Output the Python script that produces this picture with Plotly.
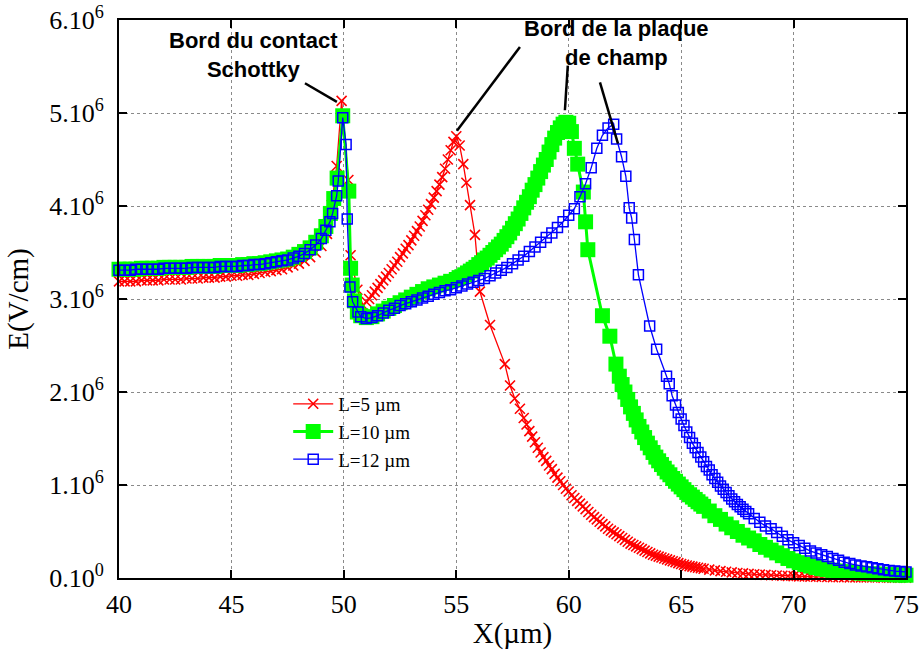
import plotly.graph_objects as go

# ---------------- data (E in units of 1e6 V/cm, X in µm) ----------------
X_L5 = [
    40.0, 40.25, 40.5, 40.75, 41.0, 41.25, 41.5, 41.75, 42.0, 42.25, 42.5, 42.75,
    43.0, 43.25, 43.5, 43.75, 44.0, 44.25, 44.5, 44.75, 45.0, 45.25, 45.5, 45.75,
    46.0, 46.25, 46.5, 46.75, 47.0, 47.25, 47.5, 47.75, 48.0, 48.25, 48.5, 48.75,
    49.0, 49.25,
    49.46, 49.68, 49.9, 50.2, 50.3, 50.6,
    50.86, 51.0, 51.125, 51.25, 51.375, 51.5, 51.625, 51.75, 51.875,
    52.0, 52.125, 52.25, 52.375, 52.5, 52.625, 52.75, 52.875,
    53.0, 53.125, 53.25, 53.375, 53.5, 53.625, 53.75, 53.875,
    54.0, 54.125, 54.25, 54.375, 54.5, 54.625, 54.75, 54.875, 55.0,
    55.15, 55.31, 55.45, 55.61, 55.83,
    56.05, 56.5, 57.16, 57.39, 57.6, 57.83,
    58.0, 58.125, 58.25, 58.375, 58.5, 58.625, 58.75, 58.875,
    59.0, 59.125, 59.25, 59.375, 59.5, 59.625, 59.75, 59.875,
    60.0, 60.125, 60.25, 60.375, 60.5, 60.625, 60.75, 60.875,
    61.0, 61.125, 61.25, 61.375, 61.5, 61.625, 61.75, 61.875,
    62.0, 62.125, 62.25, 62.375, 62.5, 62.625, 62.75, 62.875,
    63.0, 63.125, 63.25, 63.375, 63.5, 63.625, 63.75, 63.875,
    64.0, 64.125, 64.25, 64.375, 64.5, 64.625, 64.75, 64.875,
    65.0, 65.125, 65.25, 65.375, 65.5, 65.625, 65.75, 65.875,
    66.0, 66.25, 66.5, 66.75, 67.0, 67.25, 67.5, 67.75,
    68.0, 68.25, 68.5, 68.75, 69.0, 69.25, 69.5, 69.75,
    70.0, 70.25, 70.5, 70.75, 71.0, 71.25, 71.5, 71.75,
    72.0, 72.25, 72.5, 72.75, 73.0, 73.25, 73.5, 73.75,
    74.0, 74.25, 74.5, 74.75, 75.0,
]
E_L5 = [
    3.19, 3.19, 3.19, 3.19, 3.20, 3.20, 3.20, 3.20, 3.21, 3.21, 3.21, 3.21,
    3.22, 3.22, 3.22, 3.23, 3.23, 3.23, 3.24, 3.24, 3.25, 3.25, 3.26, 3.26,
    3.27, 3.28, 3.29, 3.30, 3.31, 3.32, 3.34, 3.36, 3.38, 3.41, 3.45, 3.50,
    3.57, 3.70,
    4.01, 4.43, 5.13, 4.28, 3.47, 3.10,
    2.93, 2.97, 3.00, 3.04, 3.08, 3.12, 3.16, 3.20, 3.24,
    3.28, 3.32, 3.36, 3.40, 3.45, 3.49, 3.54, 3.58,
    3.63, 3.68, 3.73, 3.78, 3.84, 3.90, 3.96, 4.02,
    4.09, 4.16, 4.23, 4.31, 4.40, 4.50, 4.60, 4.69, 4.75,
    4.65, 4.45, 4.25, 4.01, 3.69,
    3.08, 2.72, 2.30, 2.07, 1.93, 1.82,
    1.72, 1.65, 1.58, 1.52, 1.46, 1.40, 1.35, 1.30,
    1.26, 1.21, 1.17, 1.12, 1.08, 1.04, 1.00, 0.96,
    0.93, 0.89, 0.86, 0.83, 0.80, 0.77, 0.74, 0.71,
    0.68, 0.655, 0.63, 0.605, 0.58, 0.555, 0.53, 0.51,
    0.49, 0.47, 0.45, 0.43, 0.41, 0.39, 0.37, 0.355,
    0.34, 0.325, 0.31, 0.295, 0.28, 0.265, 0.25, 0.24,
    0.23, 0.22, 0.21, 0.20, 0.19, 0.18, 0.17, 0.16,
    0.150, 0.142, 0.135, 0.128, 0.122, 0.116, 0.110, 0.105,
    0.100, 0.090, 0.082, 0.074, 0.067, 0.060, 0.054, 0.049,
    0.044, 0.040, 0.036, 0.033, 0.030, 0.027, 0.024, 0.022,
    0.020, 0.018, 0.016, 0.015, 0.013, 0.012, 0.011, 0.010,
    0.009, 0.008, 0.007, 0.007, 0.006, 0.006, 0.005, 0.005,
    0.004, 0.004, 0.004, 0.003, 0.003,
]

X_L10 = [
    40.0, 40.25, 40.5, 40.75, 41.0, 41.25, 41.5, 41.75, 42.0, 42.25, 42.5, 42.75,
    43.0, 43.25, 43.5, 43.75, 44.0, 44.25, 44.5, 44.75, 45.0, 45.25, 45.5, 45.75,
    46.0, 46.25, 46.5, 46.75, 47.0, 47.25, 47.5, 47.75, 48.0, 48.25, 48.5, 48.75,
    49.0,
    49.2, 49.4, 49.55, 49.7, 49.95, 50.22, 50.3, 50.37, 50.47, 50.6,
    50.75, 51.0, 51.25, 51.5, 51.75,
    52.0, 52.25, 52.5, 52.75, 53.0, 53.25, 53.5, 53.75,
    54.0, 54.25, 54.5, 54.75,
    55.0, 55.125, 55.25, 55.375, 55.5, 55.625, 55.75, 55.875,
    56.0, 56.125, 56.25, 56.375, 56.5, 56.625, 56.75, 56.875,
    57.0, 57.125, 57.25, 57.375, 57.5, 57.625, 57.75, 57.875,
    58.0, 58.125, 58.25, 58.375, 58.5, 58.625, 58.75, 58.875,
    59.0, 59.125, 59.25, 59.375, 59.5, 59.625, 59.75, 59.875,
    60.0,
    60.12, 60.25, 60.4, 60.65, 60.75, 60.85, 61.5, 61.83,
    62.1, 62.25, 62.375, 62.5, 62.625, 62.75, 62.875,
    63.0, 63.125, 63.25, 63.375, 63.5, 63.625, 63.75, 63.875,
    64.0, 64.125, 64.25, 64.375, 64.5, 64.625, 64.75, 64.875,
    65.0, 65.125, 65.25, 65.375, 65.5, 65.625, 65.75, 65.875,
    66.0, 66.25, 66.5, 66.75, 67.0, 67.25, 67.5, 67.75,
    68.0, 68.25, 68.5, 68.75, 69.0, 69.25, 69.5, 69.75,
    70.0, 70.25, 70.5, 70.75, 71.0, 71.25, 71.5, 71.75,
    72.0, 72.25, 72.5, 72.75, 73.0, 73.25, 73.5, 73.75,
    74.0, 74.25, 74.5, 74.75, 75.0,
]
E_L10 = [
    3.32, 3.32, 3.32, 3.32, 3.33, 3.33, 3.33, 3.33, 3.34, 3.34, 3.34, 3.34,
    3.34, 3.35, 3.35, 3.35, 3.35, 3.35, 3.36, 3.36, 3.36, 3.36, 3.37, 3.37,
    3.38, 3.38, 3.39, 3.40, 3.41, 3.42, 3.43, 3.45, 3.48, 3.51, 3.55, 3.61,
    3.68,
    3.78, 3.92, 4.08, 4.30, 4.97, 4.16, 3.33, 3.15, 2.98, 2.86,
    2.82, 2.80, 2.81, 2.84, 2.87,
    2.90, 2.93, 2.96, 2.99, 3.02, 3.05, 3.08, 3.11,
    3.13, 3.15, 3.17, 3.19,
    3.21, 3.23, 3.24, 3.26, 3.28, 3.30, 3.32, 3.34,
    3.37, 3.39, 3.42, 3.44, 3.47, 3.50, 3.53, 3.56,
    3.59, 3.63, 3.67, 3.71, 3.76, 3.81, 3.86, 3.92,
    3.98, 4.04, 4.10, 4.17, 4.23, 4.30, 4.37, 4.44,
    4.50, 4.58, 4.66, 4.73, 4.79, 4.84, 4.88, 4.90,
    4.89,
    4.80, 4.62, 4.45, 4.15, 3.83, 3.53, 2.82, 2.60,
    2.30, 2.17, 2.08, 2.00, 1.92, 1.84, 1.77,
    1.70, 1.63, 1.57, 1.51, 1.45, 1.40, 1.35, 1.30,
    1.26, 1.22, 1.18, 1.14, 1.11, 1.07, 1.04, 1.01,
    0.98, 0.95, 0.92, 0.895, 0.87, 0.845, 0.82, 0.795,
    0.77, 0.72, 0.67, 0.63, 0.58, 0.54, 0.50, 0.46,
    0.43, 0.40, 0.36, 0.33, 0.30, 0.27, 0.24, 0.21,
    0.185, 0.165, 0.145, 0.128, 0.113, 0.100, 0.090, 0.082,
    0.075, 0.068, 0.062, 0.057, 0.052, 0.048, 0.045, 0.042,
    0.039, 0.036, 0.034, 0.032, 0.030,
]

X_L12 = [
    40.0, 40.25, 40.5, 40.75, 41.0, 41.25, 41.5, 41.75, 42.0, 42.25, 42.5, 42.75,
    43.0, 43.25, 43.5, 43.75, 44.0, 44.25, 44.5, 44.75, 45.0, 45.25, 45.5, 45.75,
    46.0, 46.25, 46.5, 46.75, 47.0, 47.25, 47.5, 47.75, 48.0, 48.25, 48.5, 48.75,
    49.0,
    49.2, 49.38, 49.5, 49.68, 49.75, 49.95, 50.1, 50.15, 50.27, 50.39, 50.63,
    50.75, 51.0, 51.25, 51.5, 51.75,
    52.0, 52.25, 52.5, 52.75, 53.0, 53.25, 53.5, 53.75,
    54.0, 54.25, 54.5, 54.75, 55.0, 55.25, 55.5, 55.75,
    56.0, 56.25, 56.5, 56.75, 57.0, 57.25, 57.5, 57.75,
    58.0, 58.25, 58.5, 58.75, 59.0, 59.25, 59.5, 59.75,
    60.0, 60.25, 60.5, 60.75, 61.0, 61.25, 61.5, 61.75,
    62.0,
    62.13, 62.35, 62.54, 62.69, 62.8, 62.92, 63.1, 63.6, 63.91, 64.35, 64.47,
    64.6, 64.75, 64.875,
    65.0, 65.125, 65.25, 65.375, 65.5, 65.625, 65.75, 65.875,
    66.0, 66.125, 66.25, 66.375, 66.5, 66.625, 66.75, 66.875,
    67.0, 67.125, 67.25, 67.375, 67.5, 67.625, 67.75, 67.875,
    68.0, 68.25, 68.5, 68.75, 69.0, 69.25, 69.5, 69.75,
    70.0, 70.25, 70.5, 70.75, 71.0, 71.25, 71.5, 71.75,
    72.0, 72.25, 72.5, 72.75, 73.0, 73.25, 73.5, 73.75,
    74.0, 74.25, 74.5, 74.75, 75.0,
]
E_L12 = [
    3.31, 3.31, 3.31, 3.32, 3.32, 3.32, 3.32, 3.32, 3.33, 3.33, 3.33, 3.33,
    3.33, 3.34, 3.34, 3.34, 3.34, 3.34, 3.35, 3.35, 3.35, 3.35, 3.36, 3.36,
    3.37, 3.37, 3.38, 3.39, 3.40, 3.41, 3.42, 3.44, 3.46, 3.49, 3.53, 3.58,
    3.65,
    3.74, 3.83, 3.92, 4.11, 4.27, 4.95, 4.66, 3.86, 3.13, 2.97, 2.86,
    2.81, 2.79, 2.80, 2.82, 2.85,
    2.88, 2.90, 2.93, 2.95, 2.97, 2.99, 3.01, 3.03,
    3.05, 3.07, 3.09, 3.10, 3.12, 3.14, 3.16, 3.18,
    3.20, 3.22, 3.25, 3.28, 3.31, 3.34, 3.38, 3.42,
    3.46, 3.51, 3.56, 3.61, 3.66, 3.71, 3.77, 3.83,
    3.90, 3.97, 4.10, 4.24, 4.41, 4.62, 4.76, 4.84,
    4.88,
    4.72, 4.53, 4.32, 3.98, 3.87, 3.64, 3.26, 2.71, 2.46, 2.17, 2.09,
    1.96, 1.86, 1.78,
    1.71, 1.64, 1.57, 1.51, 1.45, 1.40, 1.35, 1.30,
    1.25, 1.20, 1.16, 1.11, 1.07, 1.03, 0.99, 0.955,
    0.92, 0.885, 0.85, 0.82, 0.79, 0.765, 0.74, 0.715,
    0.69, 0.64, 0.60, 0.56, 0.53, 0.49, 0.45, 0.41,
    0.38, 0.35, 0.32, 0.29, 0.27, 0.25, 0.23, 0.21,
    0.19, 0.17, 0.155, 0.14, 0.13, 0.12, 0.11, 0.10,
    0.09, 0.08, 0.075, 0.07, 0.065,
]

X_TICKS = [40, 45, 50, 55, 60, 65, 70, 75]
Y_TICKS = [0, 1, 2, 3, 4, 5, 6]
Y_TICKTEXT = ["0.10<sup>0</sup>", "1.10<sup>6</sup>", "2.10<sup>6</sup>", "3.10<sup>6</sup>",
              "4.10<sup>6</sup>", "5.10<sup>6</sup>", "6.10<sup>6</sup>"]

SERIF = "Liberation Serif"
SANS = "Liberation Sans"

fig = go.Figure()
fig.add_trace(go.Scatter(
    x=X_L5, y=E_L5, mode="lines+markers", name="L=5 µm",
    line=dict(color="#ff0000", width=1.3),
    marker=dict(symbol="x-thin", size=10, color="#ff0000",
                line=dict(color="#ff0000", width=1.6)),
    cliponaxis=False))
fig.add_trace(go.Scatter(
    x=X_L10, y=E_L10, mode="lines+markers", name="L=10 µm",
    line=dict(color="#00ff00", width=3),
    marker=dict(symbol="square", size=15, color="#00ff00",
                line=dict(width=0)),
    cliponaxis=False))
fig.add_trace(go.Scatter(
    x=X_L12, y=E_L12, mode="lines+markers", name="L=12 µm",
    line=dict(color="#0000ff", width=1.3),
    marker=dict(symbol="square-open", size=10, color="#0000ff",
                line=dict(color="#0000ff", width=1.5)),
    cliponaxis=False))

axis_common = dict(
    showline=True, linecolor="black", linewidth=2, mirror="ticks",
    ticks="inside", ticklen=8, tickwidth=1.5, tickcolor="black",
    showgrid=True, gridcolor="#8a8a8a", griddash="dot", gridwidth=1,
    zeroline=False, automargin=False, ticklabeloverflow="allow",
    tickfont=dict(family=SERIF, size=26, color="black"),
)

fig.update_xaxes(range=[40, 75], tickvals=X_TICKS, ticklabelstandoff=2,
                 title=dict(text="X(µm)", font=dict(family=SERIF, size=29, color="black"),
                            standoff=4),
                 **axis_common)
fig.update_yaxes(range=[0, 6], tickvals=Y_TICKS, ticktext=Y_TICKTEXT, ticklabelstandoff=8,
                 title=dict(text="E(V/cm)", font=dict(family=SERIF, size=29, color="black"),
                            standoff=12),
                 **axis_common)

# annotation pointer lines
for (x0, y0, x1, y1) in [(48.27, 5.32, 49.69, 5.12),
                          (57.83, 5.71, 55.03, 4.81),
                          (59.96, 5.51, 59.83, 5.03),
                          (61.39, 5.33, 62.19, 4.67)]:
    fig.add_shape(type="line", xref="x", yref="y", x0=x0, y0=y0, x1=x1, y1=y1,
                  line=dict(color="black", width=2.5))

fig.add_annotation(x=45.96, y=5.62, xref="x", yref="y", showarrow=False,
                   text="<b>Bord du contact<br>Schottky</b>",
                   font=dict(family=SANS, size=22, color="black"), align="center")
fig.add_annotation(x=62.14, y=5.757, xref="x", yref="y", showarrow=False,
                   text="<b>Bord de la plaque<br>de champ</b>",
                   font=dict(family=SANS, size=22, color="black"), align="center")

fig.update_layout(
    width=919, height=653,
    margin=dict(l=119, r=13, t=20, b=75),
    paper_bgcolor="white", plot_bgcolor="white",
    showlegend=True,
    legend=dict(x=0.215, y=0.346, xanchor="left", yanchor="top",
                bgcolor="rgba(0,0,0,0)", borderwidth=0,
                font=dict(family=SERIF, size=19, color="black"),
                tracegroupgap=0, itemwidth=40),
)

# remove the page's default body margin so the figure sits at the window origin
fig.write_html("out.html",
               config={"displayModeBar": False},
               post_script="document.body.style.margin='0';document.body.style.overflow='hidden';")
